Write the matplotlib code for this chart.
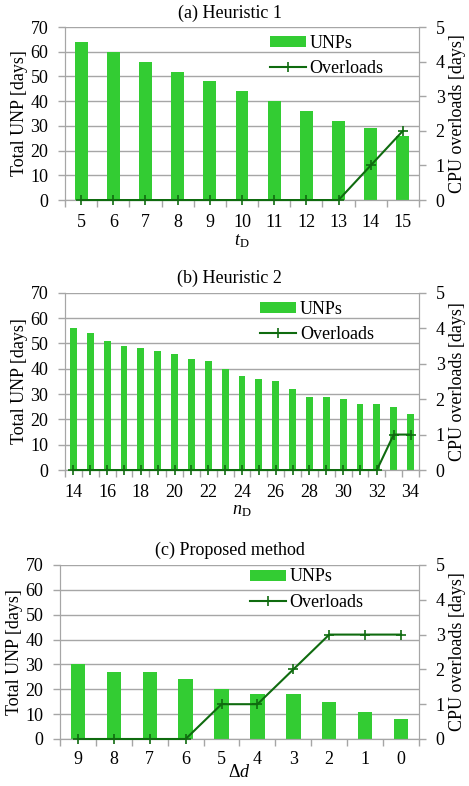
#!/usr/bin/env python3
"""
UNP vs CPU overloads for the three allocation methods
"""
import matplotlib
matplotlib.use("Agg")
import matplotlib.pyplot as plt
from matplotlib.patches import Patch
from matplotlib.lines import Line2D

plt.rcParams["font.family"] = ["Liberation Serif", "DejaVu Serif"]
plt.rcParams["mathtext.fontset"] = "custom"
plt.rcParams["mathtext.rm"] = "Liberation Serif"
plt.rcParams["mathtext.it"] = "Liberation Serif:italic"
plt.rcParams["font.size"] = 13

# (a) Heuristic 1
h1_labels = ["5", "6", "7", "8", "9", "10", "11", "12", "13", "14", "15"]
h1_unp = [64, 60, 56, 52, 48, 44, 40, 36, 32, 29, 26]
h1_over = [0, 0, 0, 0, 0, 0, 0, 0, 0, 1, 2]

# (b) Heuristic 2
h2_labels = [str(v) for v in range(14, 35)]
h2_unp = [56, 54, 51, 49, 48, 47, 46, 44, 43, 40, 37, 36, 35, 32, 29, 29, 28,
          26, 26, 25, 22]
h2_over = [0] * 19 + [1, 1]

# (c) Proposed method
pm_labels = ["9", "8", "7", "6", "5", "4", "3", "2", "1", "0"]
pm_unp = [30, 27, 27, 24, 20, 18, 18, 15, 11, 8]
pm_over = [0, 0, 0, 0, 1, 1, 2, 3, 3, 3]

BAR = "#33cc33"
LINE = "#0f6b0f"
GRID = "#a6a6a6"


def draw_panel(fig, rect, labels, unp, over, title, xlabel, legend_xy,
               label_step=1, xlabel_pad=1, xtick_pad=10):
    ax = fig.add_axes(rect)
    n = len(labels)
    xs = list(range(n))
    ax.bar(xs, unp, width=0.4, color=BAR, zorder=2)
    ax.set_xlim(-0.5, n - 0.5)
    ax.set_ylim(0, 70)
    ax.set_yticks(range(0, 71, 10))
    ax.yaxis.grid(True, color=GRID, linewidth=1.0, zorder=0)
    ax.set_axisbelow(True)

    # category boundaries get the tick marks, labels sit at centres
    ax.set_xticks([i - 0.5 for i in range(n + 1)])
    ax.set_xticklabels([])
    ax.set_xticks(xs[::label_step], minor=True)
    ax.set_xticklabels(labels[::label_step], minor=True)
    ax.tick_params(axis="x", which="major", length=5, color=GRID, width=1)
    ax.tick_params(axis="x", which="minor", length=0, pad=xtick_pad)
    ax.tick_params(axis="y", length=5, color=GRID, width=1, pad=7)

    ax.spines["top"].set_visible(False)
    for side in ["left", "right", "bottom"]:
        ax.spines[side].set_color(GRID)
    ax.set_ylabel("Total UNP [days]", labelpad=2)
    ax.set_xlabel(xlabel, labelpad=xlabel_pad)

    ax2 = ax.twinx()
    ax2.plot(xs, over, color=LINE, marker="+", markersize=7,
             markeredgewidth=1.2, linewidth=1.5, zorder=3, clip_on=False)
    ax2.set_ylim(0, 5)
    ax2.set_yticks(range(0, 6))
    ax2.tick_params(axis="y", length=5, color=GRID, width=1, pad=7)
    ax2.spines["top"].set_visible(False)
    for side in ["left", "right", "bottom"]:
        ax2.spines[side].set_color(GRID)
    ax2.set_ylabel("CPU overloads [days]", labelpad=3)

    handles = [Patch(facecolor=BAR, edgecolor="none"),
               Line2D([0], [0], color=LINE, marker="+", markersize=7,
                      markeredgewidth=1.2, linewidth=1.5)]
    ax2.legend(handles, ["UNPs", "Overloads"], loc="upper left",
               bbox_to_anchor=legend_xy, frameon=False, borderpad=0,
               borderaxespad=0, handlelength=2.0, handleheight=0.55,
               handletextpad=0.2, labelspacing=0.45)

    bbox = ax.get_position()
    fig.text(0.49, bbox.y1 + 0.018, title, ha="center", va="center")
    return ax


fig = plt.figure(figsize=(4.69, 7.86), dpi=100)

draw_panel(fig, [0.1386, 0.7455, 0.7548, 0.2201], h1_labels, h1_unp, h1_over,
           "(a) Heuristic 1", r"$t_\mathrm{D}$", (0.579, 0.955))
draw_panel(fig, [0.1386, 0.402, 0.7548, 0.2256], h2_labels, h2_unp, h2_over,
           "(b) Heuristic 2", r"$n_\mathrm{D}$", (0.551, 0.953), label_step=2)
draw_panel(fig, [0.1279, 0.0598, 0.7655, 0.2214], pm_labels, pm_unp, pm_over,
           "(c) Proposed method", r"$\Delta d$", (0.529, 0.98),
           xlabel_pad=-3, xtick_pad=9)

fig.savefig("out.png", dpi=100)
